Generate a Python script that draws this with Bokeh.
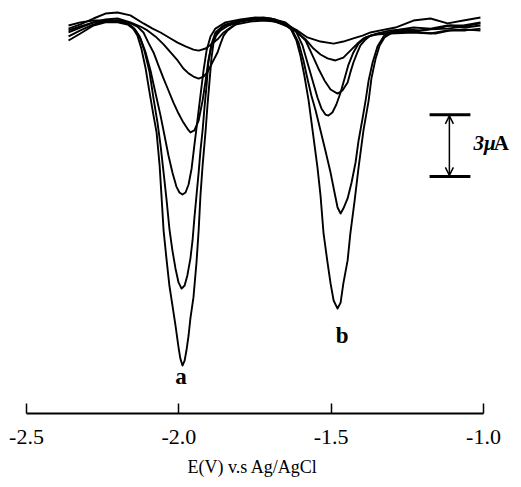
from bokeh.plotting import figure
from bokeh.models import Range1d, FixedTicker, NumeralTickFormatter, Arrow, OpenHead, Title
from bokeh.core.properties import value
from bokeh.embed import file_html
from bokeh.resources import INLINE

# ---- data: potential E (V vs Ag/AgCl) and current (uA, cathodic negative) ----
e1 = [-2.362, -2.323, -2.280, -2.241, -2.201, -2.159, -2.116, -2.086, -2.060, -2.027, -2.004, -1.978, -1.952,
      -1.935, -1.912, -1.890, -1.870, -1.853, -1.830, -1.798, -1.765, -1.722, -1.683, -1.643, -1.611, -1.578,
      -1.535, -1.492, -1.460, -1.427, -1.397, -1.371, -1.338, -1.289, -1.230, -1.174, -1.118, -1.066, -1.010]
i1 = [-0.15, 0.05, 0.34, 0.58, 0.63, 0.49, 0.10, -0.15, -0.34, -0.63, -0.83, -1.02, -1.17,
      -1.22, -1.12, -0.88, -0.63, -0.34, -0.10, 0.19, 0.34, 0.39, 0.29, 0.00, -0.24, -0.58,
      -0.78, -0.88, -0.78, -0.63, -0.49, -0.34, -0.24, -0.10, 0.24, 0.34, 0.10, 0.24, 0.39]

e2 = [-2.362, -2.323, -2.280, -2.241, -2.201, -2.159, -2.126, -2.103, -2.077, -2.050, -2.027, -2.004, -1.985,
      -1.968, -1.952, -1.935, -1.919, -1.906, -1.890, -1.873, -1.863, -1.853, -1.840, -1.814, -1.765, -1.722,
      -1.683, -1.643, -1.611, -1.584, -1.558, -1.535, -1.512, -1.486, -1.460, -1.437, -1.414, -1.394, -1.371,
      -1.348, -1.305, -1.256, -1.207, -1.158, -1.108, -1.059, -1.010]
i2 = [-0.34, -0.10, 0.15, 0.29, 0.34, 0.15, -0.05, -0.24, -0.53, -0.92, -1.31, -1.70, -2.09,
      -2.33, -2.48, -2.58, -2.48, -2.28, -1.80, -1.31, -0.88, -0.49, -0.24, 0.05, 0.19, 0.24,
      0.19, -0.05, -0.34, -0.68, -1.12, -1.41, -1.60, -1.70, -1.56, -1.22, -0.88, -0.63, -0.49,
      -0.39, -0.24, -0.19, -0.24, -0.15, 0.00, -0.10, 0.00]

e3 = [-2.362, -2.323, -2.280, -2.241, -2.201, -2.165, -2.136, -2.116, -2.100, -2.083, -2.067, -2.050, -2.034,
      -2.018, -2.001, -1.985, -1.972, -1.962, -1.949, -1.935, -1.922, -1.912, -1.903, -1.893, -1.880, -1.863,
      -1.837, -1.798, -1.748, -1.699, -1.650, -1.617, -1.584, -1.561, -1.542, -1.522, -1.502, -1.479, -1.463,
      -1.446, -1.437, -1.427, -1.414, -1.404, -1.387, -1.371, -1.338, -1.289, -1.230, -1.174, -1.118, -1.066,
      -1.010]
i3 = [-0.53, -0.24, 0.05, 0.19, 0.24, 0.15, -0.05, -0.34, -0.83, -1.31, -1.94, -2.58, -3.16,
      -3.74, -4.28, -4.72, -5.01, -5.20, -5.10, -4.62, -3.65, -2.67, -1.70, -0.97, -0.53, -0.24,
      0.00, 0.19, 0.29, 0.24, 0.05, -0.24, -0.73, -1.46, -2.09, -2.67, -3.11, -3.31, -3.16,
      -2.77, -2.28, -1.80, -1.31, -0.97, -0.68, -0.49, -0.39, -0.34, -0.29, -0.19, -0.15, -0.05,
      0.10]

e4 = [-2.362, -2.323, -2.280, -2.241, -2.201, -2.168, -2.142, -2.126, -2.109, -2.093, -2.077, -2.060, -2.047,
      -2.034, -2.021, -2.008, -1.998, -1.988, -1.978, -1.968, -1.958, -1.949, -1.939, -1.929, -1.919, -1.909,
      -1.896, -1.880, -1.847, -1.798, -1.748, -1.699, -1.650, -1.617, -1.594, -1.578, -1.561, -1.545, -1.532,
      -1.519, -1.509, -1.496, -1.483, -1.469, -1.456, -1.443, -1.427, -1.410, -1.387, -1.354, -1.305, -1.230,
      -1.174, -1.118, -1.066, -1.010]
i4 = [-0.73, -0.39, 0.00, 0.15, 0.15, 0.05, -0.24, -0.63, -1.31, -2.19, -3.26, -4.38, -5.35,
      -6.32, -7.15, -7.83, -8.12, -8.22, -8.12, -7.73, -6.95, -5.83, -4.62, -3.40, -2.19, -1.22,
      -0.53, -0.15, 0.15, 0.29, 0.39, 0.34, 0.15, -0.24, -0.97, -1.80, -2.67, -3.50, -4.03,
      -4.33, -4.38, -4.23, -3.84, -3.26, -2.58, -1.90, -1.31, -0.88, -0.58, -0.44, -0.39, -0.34,
      -0.39, -0.24, -0.19, -0.24]

e5 = [-2.362, -2.323, -2.280, -2.241, -2.201, -2.168, -2.146, -2.129, -2.113, -2.096, -2.083, -2.070, -2.060,
      -2.050, -2.040, -2.031, -2.021, -2.011, -2.001, -1.991, -1.981, -1.972, -1.962, -1.955, -1.949, -1.942,
      -1.935, -1.929, -1.922, -1.916, -1.909, -1.903, -1.893, -1.880, -1.857, -1.798, -1.748, -1.699, -1.656,
      -1.627, -1.607, -1.591, -1.578, -1.565, -1.551, -1.535, -1.519, -1.502, -1.489, -1.479, -1.469, -1.460,
      -1.446, -1.433, -1.420, -1.410, -1.397, -1.387, -1.377, -1.364, -1.348, -1.328, -1.305, -1.272, -1.230,
      -1.174, -1.118, -1.066, -1.010]
i5 = [-0.24, -0.05, 0.15, 0.19, 0.19, 0.10, -0.15, -0.53, -1.22, -2.28, -3.55, -4.72, -5.83,
      -7.15, -8.51, -9.87, -10.94, -11.81, -12.49, -12.79, -12.64, -12.15, -11.33, -10.45, -9.38, -8.26,
      -7.15, -6.08, -5.10, -4.03, -2.92, -1.80, -0.92, -0.34, -0.05, 0.24, 0.34, 0.29, 0.10,
      -0.24, -0.83, -1.70, -2.58, -3.40, -4.13, -5.10, -6.08, -7.15, -8.12, -8.85, -9.14, -8.90,
      -8.41, -7.63, -6.66, -5.59, -4.52, -3.65, -2.67, -1.80, -1.02, -0.53, -0.29, -0.19, -0.10,
      -0.15, 0.00, 0.00, 0.15]

e6 = [-2.362, -2.323, -2.280, -2.241, -2.201, -2.172, -2.152, -2.136, -2.123, -2.109, -2.096, -2.083, -2.073,
      -2.063, -2.057, -2.050, -2.040, -2.031, -2.021, -2.011, -2.001, -1.995, -1.988, -1.981, -1.975, -1.968,
      -1.962, -1.952, -1.942, -1.935, -1.929, -1.922, -1.912, -1.906, -1.899, -1.893, -1.886, -1.873, -1.847,
      -1.798, -1.748, -1.699, -1.660, -1.633, -1.614, -1.601, -1.588, -1.574, -1.561, -1.545, -1.535, -1.525,
      -1.512, -1.502, -1.492, -1.479, -1.469, -1.460, -1.446, -1.437, -1.423, -1.410, -1.394, -1.377, -1.368,
      -1.354, -1.341, -1.325, -1.299, -1.256, -1.207, -1.158, -1.108, -1.059, -1.010]
i6 = [0.00, 0.15, 0.24, 0.24, 0.24, 0.15, -0.10, -0.49, -1.12, -2.09, -3.26, -4.38, -5.20,
      -6.81, -8.26, -9.97, -11.42, -12.64, -13.61, -14.58, -15.65, -16.19, -16.53, -16.29, -15.80, -15.07,
      -14.24, -13.22, -11.52, -9.97, -8.26, -6.81, -5.10, -3.89, -2.67, -1.60, -0.83, -0.29, 0.05,
      0.24, 0.34, 0.29, 0.15, -0.15, -0.73, -1.46, -2.43, -3.65, -5.10, -6.90, -8.26, -10.11,
      -11.52, -12.54, -13.37, -13.76, -13.47, -12.54, -11.42, -10.11, -8.51, -6.90, -5.10, -3.65, -2.58,
      -1.60, -0.97, -0.58, -0.34, -0.24, -0.34, -0.39, -0.24, -0.24, -0.15]

potentials = [e1, e2, e3, e4, e5, e6]
currents = [i1, i2, i3, i4, i5, i6]

tick_values = [-2.5, -2.0, -1.5, -1.0]
x_label = "E(V) v.s Ag/AgCl"

peak_labels = ["a", "b"]
peak_label_e = [-1.993, -1.464]
peak_label_i = [-17.06, -15.07]

scale_top = -4.34          # uA
scale_length = 3.0         # uA (3 uA scale bar)
scale_e0, scale_e1 = -1.177, -1.043
scale_arrow_e = -1.112

# ---- figure ----
p = figure(width=521, height=485, output_backend="svg", toolbar_location=None,
           x_range=Range1d(-2.5853, -0.8753), y_range=Range1d(-18.862, 1.215),
           y_axis_location=None,
           min_border_left=0, min_border_right=0, min_border_top=0, min_border_bottom=72)
p.outline_line_color = None
p.xgrid.visible = False
p.ygrid.visible = False
p.background_fill_color = "white"
p.border_fill_color = "white"

for xs, ys in zip(potentials, currents):
    p.line(xs, ys, line_color="black", line_width=1.9, line_join="round")

# scale bar
p.segment(x0=[scale_e0, scale_e0], y0=[scale_top, scale_top - scale_length],
          x1=[scale_e1, scale_e1], y1=[scale_top, scale_top - scale_length],
          line_color="black", line_width=3)
p.add_layout(Arrow(start=OpenHead(size=8, line_width=1.5), end=OpenHead(size=8, line_width=1.5),
                   x_start=scale_arrow_e, y_start=scale_top - 0.05,
                   x_end=scale_arrow_e, y_end=scale_top - scale_length + 0.05,
                   line_width=1.5, line_color="black"))
p.text(x=[-1.033], y=[-5.69], text=["3μ"], text_font=value("Liberation Serif"),
       text_font_style="bold italic", text_font_size="21px", text_color="black",
       text_align="left", text_baseline="alphabetic")
p.text(x=[-0.966], y=[-5.69], text=["A"], text_font=value("Liberation Serif"),
       text_font_style="bold", text_font_size="21px", text_color="black",
       text_align="left", text_baseline="alphabetic")

# peak labels
p.text(x=peak_label_e, y=peak_label_i, text=peak_labels, text_font=value("Liberation Serif"),
       text_font_style="bold", text_font_size="23px", text_color="black",
       text_align="center", text_baseline="alphabetic")

# x axis
ax = p.xaxis[0]
ax.ticker = FixedTicker(ticks=tick_values)
ax.formatter = NumeralTickFormatter(format="0.0")
ax.bounds = (tick_values[0], tick_values[-1])
ax.axis_line_width = 2
ax.axis_line_color = "black"
ax.major_tick_in = 10
ax.major_tick_out = 0
ax.major_tick_line_width = 1.5
ax.major_tick_line_color = "black"
ax.minor_tick_line_color = None
ax.major_label_text_font = "Liberation Serif"
ax.major_label_text_font_size = "22px"
ax.major_label_text_color = "black"
ax.major_label_standoff = 16

# axis title below the axis
p.add_layout(Title(text=x_label, align="left", offset=187, standoff=16,
                   text_font="Liberation Serif", text_font_size="18px",
                   text_font_style="normal", text_color="black"), "below")

open("out.html", "w").write(file_html(p, INLINE))
